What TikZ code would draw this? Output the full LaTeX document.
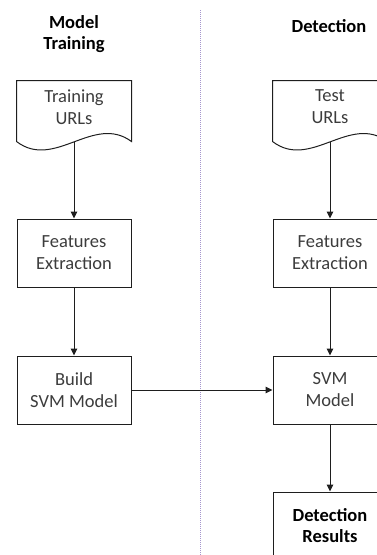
\documentclass[tikz,border=0pt]{standalone}
\usepackage{fontspec}
\setmainfont{Carlito}
\usetikzlibrary{arrows.meta,calc,positioning}

\definecolor{lineclr}{RGB}{30,30,30}
\definecolor{textclr}{RGB}{60,60,60}
\definecolor{sepclr}{RGB}{165,150,205}

\newcommand{\docshape}[1]{%
  \draw[docline] (#1.north west) -- (#1.north east) -- ([yshift=-8pt]#1.south east)
    .. controls +(-38,-28) and +(38,29) .. ([yshift=-8pt]#1.south west) -- cycle;
  \coordinate (#1-b) at ([yshift=-8pt]#1.south);}

\begin{document}
\begin{tikzpicture}[x=1pt,y=-1pt,
  box/.style={draw=lineclr,line width=1pt,minimum width=114pt,minimum height=68pt,
    inner sep=0pt,align=center,text=textclr,font=\fontsize{18.5}{22}\selectfont},
  docbox/.style={box,draw=none,minimum height=52pt},
  boldbox/.style={box,text=black,font=\fontsize{18.5}{21}\selectfont\bfseries},
  title/.style={align=center,text=black,font=\fontsize{18.5}{21}\selectfont\bfseries},
  docline/.style={draw=lineclr,line width=1pt},
  link/.style={draw=lineclr,line width=1pt,-{Triangle[length=7pt,width=6.5pt]}},
  divider/.style={draw=sepclr,line width=0.7pt,dash pattern=on 1pt off 1pt}]
  \useasboundingbox (0,0) rectangle (377,555);

  % column separator
  \coordinate (septop) at (200,10);
  \coordinate (sepbot) at (200,560);
  \draw[divider] (septop) -- (sepbot);

  \node[title] (traintitle) at (74,34) {Model\\Training};
  \node[title] (dettitle) at (329,26) {Detection};

  % model training
  \node[docbox] (trainurl) at (74,107) {Training\\URLs};
  \docshape{trainurl}
  \node[box] (trainfeat) at (74,253) {Features\\Extraction};
  \node[box] (buildsvm) at (74,390) {Build\\SVM Model};

  % detection
  \node[docbox] (testurl) at (330,107) {Test\\URLs};
  \docshape{testurl}
  \node[box] (testfeat) at (330,253) {Features\\Extraction};
  \node[box] (svmmodel) at (330,390) {SVM\\Model};
  \node[boldbox] (detresult) at (330,526) {Detection\\Results};

  \draw[link] (trainurl-b) -- (trainfeat);
  \draw[link] (trainfeat) -- (buildsvm);
  \draw[link] (testurl-b) -- (testfeat);
  \draw[link] (testfeat) -- (svmmodel);
  \draw[link] (buildsvm) -- (svmmodel);
  \draw[link] (svmmodel) -- (detresult);
\end{tikzpicture}
\end{document}
